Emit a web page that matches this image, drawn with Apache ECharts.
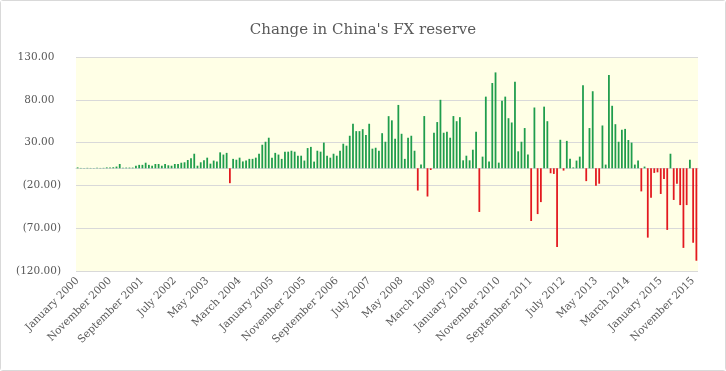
<!DOCTYPE html>
<html>
<head>
<meta charset="utf-8">
<script src="https://cdn.jsdelivr.net/npm/echarts@6/dist/echarts.min.js"></script>
<style>
html,body{margin:0;padding:0;background:#fff;}
#wrap{position:absolute;left:0;top:0;width:724px;height:369px;border:1px solid #d9d9d9;border-radius:3px;}
#chart{width:724px;height:369px;}
</style>
</head>
<body>
<div id="wrap"><div id="chart"></div></div>
<script>
const title = "Change in China's FX reserve";
const monthNames = ["January","February","March","April","May","June","July","August","September","October","November","December"];
const years = [2000,2001,2002,2003,2004,2005,2006,2007,2008,2009,2010,2011,2012,2013,2014,2015];
const yTicks = [-120, -70, -20, 30, 80, 130];
const values = [
  1, 0.4, 0.3, 0.5, 0.4, 0.3, 0.5, 0.4, 0.5, 1, 1,
  1.2, 2, 5, 0.5, 0.8, 0.8, 0.8, 3, 4, 4,
  6.5, 4, 3, 5, 5, 3, 5, 3.5, 3, 5,
  5, 6.5, 7, 9.7, 11.6, 17, 3, 7, 9.3, 12.4,
  5.4, 9, 8, 18.6, 16, 18, -17.4, 11, 10, 12.4,
  8, 9, 11, 11, 12.4, 17, 27.5, 31, 35.7, 12.4,
  18, 16, 11, 19.4, 19.4, 20.5, 19.4, 14.7, 14.7, 9,
  23.6, 25, 7.8, 20.5, 19.4, 30, 14.7, 12.4, 17, 14.7,
  20.5, 28.7, 26.4, 38, 52, 43.4, 43.4, 45.7, 39, 52,
  22.9, 24, 20.5, 41, 31, 60.9, 56, 34.5, 74, 40.3,
  11, 35.7, 38, 20.5, -26, 4.3, 61, -33, -2, 41.5,
  54, 80, 41.5, 42.6, 35.7, 61, 55, 59.7, 9.3, 14.7,
  9.3, 21.7, 42.6, -51, 13.6, 83.7, 8, 99.6, 112, 6.6,
  79, 83.7, 58.5, 53.5, 101, 19.8, 31, 47, 16, -61.6,
  71, -53.5, -39.5, 72, 55, -5.8, -6.6, -92, 33.3, -2.7,
  32, 11, 1, 9, 13.6, 97, -15, 47, 90, -20.5,
  -18, 50, 4.3, 109, 73, 51.5, 31, 45, 46, 33,
  30, 4.3, 9, -27, 2, -81, -34.5, -5.4, -4.7, -30,
  -12.4, -72, 17, -37, -18, -43, -93, -43, 10, -87, -108
];
const categories = [];
years.forEach(y => monthNames.forEach(m => categories.push(m + ' ' + y)));

const FONT = 'DejaVu Serif';
const chart = echarts.init(document.getElementById('chart'));
chart.setOption({
  animation: false,
  backgroundColor: '#ffffff',
  title: {
    text: title, left: 'center', top: 17,
    textStyle: {fontFamily: FONT, fontSize: 15, fontWeight: 'normal', color: '#595959'}
  },
  grid: {
    left: 75, right: 27, top: 56, bottom: 99,
    show: true, backgroundColor: '#FFFFE6', borderWidth: 0
  },
  xAxis: {
    type: 'category', data: categories,
    axisLine: {show: true, onZero: true, lineStyle: {color: '#d9d9d9'}},
    axisTick: {show: false},
    axisLabel: {
      interval: 9, rotate: 45, fontFamily: FONT, fontSize: 10.5, color: '#595959', margin: 8
    }
  },
  yAxis: {
    type: 'value', min: yTicks[0], max: yTicks[yTicks.length-1], interval: 50,
    axisLine: {show: false}, axisTick: {show: false},
    splitLine: {lineStyle: {color: '#d9d9d9'}},
    axisLabel: {
      fontFamily: FONT, fontSize: 10.5, color: '#595959', margin: 15,
      formatter: v => v < 0 ? '(' + Math.abs(v).toFixed(2) + ')' : v.toFixed(2) + '  '
    }
  },
  series: [{
    type: 'bar', data: values, barWidth: '55%',
    itemStyle: {color: p => p.value < 0 ? '#e3191f' : '#1f9d4c'}
  }]
});
</script>
</body>
</html>
